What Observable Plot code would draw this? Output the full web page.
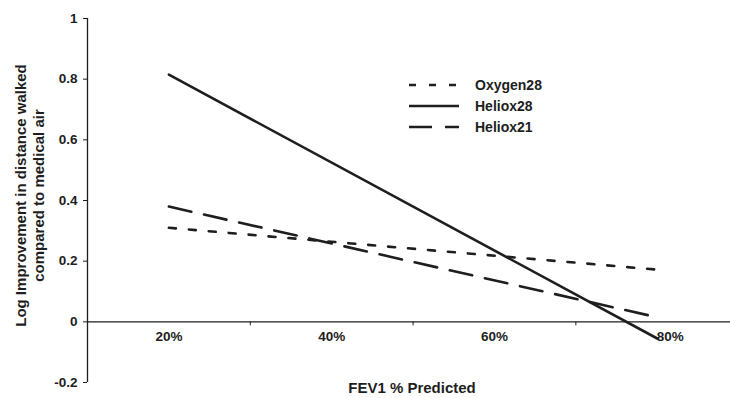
<!DOCTYPE html>
<html>
<head>
<meta charset="utf-8">
<script src="https://cdn.jsdelivr.net/npm/d3@7"></script>
<script src="https://cdn.jsdelivr.net/npm/@observablehq/plot@0.6"></script>
<style>
  html, body { margin: 0; padding: 0; background: #fff; }
  #chart { width: 730px; height: 398px; }
</style>
</head>
<body>
<div id="chart"></div>
<script>
// ---- data ----
const categories = ["20%", "40%", "60%", "80%"];
const fevValues = [20, 40, 60, 80];          // FEV1 % predicted
const boundaries = [30, 50, 70];             // tick marks between categories
const fevEnds = [20, 80];                     // regression line endpoints
const seriesNames = ["Oxygen28", "Heliox28", "Heliox21"];
const oxygen28 = [0.31, 0.172];
const heliox28 = [0.815, -0.055];
const heliox21 = [0.38, 0.015];
const yTicks = [-0.2, 0, 0.2, 0.4, 0.6, 0.8, 1];
const yTickLabels = ["-0.2", "0", "0.2", "0.4", "0.6", "0.8", "1"];
const xTitle = "FEV1 % Predicted";
const yTitle = "Log Improvement in distance walked\ncompared to medical air";

// ---- styles ----
const ink = "#1e1e1e";
const font = "'Liberation Sans', Arial, sans-serif";
const dashes = {Oxygen28: "7,13", Heliox28: null, Heliox21: "23,13"};
const seriesValues = {Oxygen28: oxygen28, Heliox28: heliox28, Heliox21: heliox21};

const rows = seriesNames.flatMap(name =>
  fevEnds.map((f, i) => ({series: name, fev: f, value: seriesValues[name][i]})));

const lineMarks = seriesNames.map(name =>
  Plot.line(rows.filter(d => d.series === name), {
    x: "fev", y: "value", stroke: ink, strokeWidth: 2.6,
    strokeDasharray: dashes[name] ?? undefined
  }));

const lastIdx = categories.length - 1;

const chart = Plot.plot({
  width: 730,
  height: 398,
  marginLeft: 87,
  marginRight: 0,
  marginTop: 18,
  marginBottom: 16,
  style: {fontFamily: font, fontSize: "13.5px", fontWeight: "bold", color: ink, background: "#fff"},
  x: {type: "linear", domain: [10, 89], axis: null},
  y: {domain: [-0.2, 1], axis: null},
  marks: [
    Plot.ruleX([10], {stroke: ink, strokeWidth: 1.3}),
    Plot.axisY({ticks: yTicks, tickSize: 4, tickPadding: 6, label: null,
      tickFormat: d => yTickLabels[yTicks.indexOf(d)], stroke: ink, fill: ink}),
    Plot.ruleY([0], {stroke: ink, strokeWidth: 1.3}),
    Plot.ruleX(boundaries, {x: d => d, y1: 0, y2: 0, insetTop: 0, insetBottom: -4, stroke: ink, strokeWidth: 1}),
    Plot.text(fevValues.slice(0, lastIdx), {x: d => d, y: 0, text: (d, i) => categories[i], dy: 15, fill: ink}),
    Plot.text(fevValues.slice(lastIdx), {x: d => d, y: 0, text: () => categories[lastIdx], dy: 15, dx: 13, fill: ink}),
    Plot.text([xTitle], {frameAnchor: "bottom", text: d => d, dy: 10, dx: 3, fill: ink, fontSize: 15}),
    Plot.text([yTitle], {frameAnchor: "left", textAnchor: "middle", text: d => d, rotate: -90, dx: -58, dy: -5, lineHeight: 1.2, fill: ink, fontSize: 15}),
    ...lineMarks
  ]
});

// legend inside the plot area
const svg = d3.select(chart);
const legend = svg.append("g").attr("transform", "translate(409,85)")
  .attr("font-family", font).attr("font-size", 14).attr("font-weight", "bold");
seriesNames.forEach((name, i) => {
  const g = legend.append("g").attr("transform", `translate(0,${i * 21})`);
  g.append("line").attr("x1", 0).attr("x2", 50).attr("y1", 0).attr("y2", 0)
    .attr("stroke", ink).attr("stroke-width", 2.6)
    .attr("stroke-dasharray", dashes[name] ?? null);
  g.append("text").attr("x", 66).attr("y", 0).attr("dy", "0.35em")
    .attr("text-anchor", "start").attr("fill", ink).text(name);
});

document.getElementById("chart").appendChild(chart);
</script>
</body>
</html>
